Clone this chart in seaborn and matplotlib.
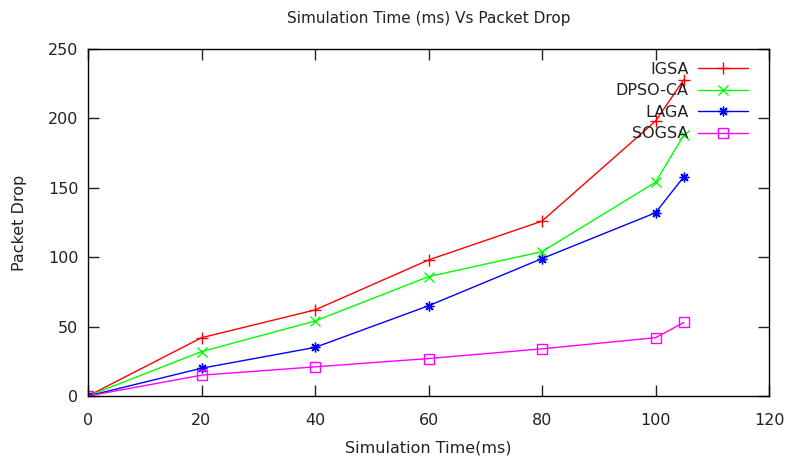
import pandas as pd
import seaborn as sns
import matplotlib
matplotlib.use("Agg")
import matplotlib.pyplot as plt

# 模擬時間 (ms)
sim_time = [0, 20, 40, 60, 80, 100, 105]

# 各演算法的封包遺失量
igsa = [0, 42, 62, 98, 126, 198, 228]
dpso_ca = [0, 32, 54, 86, 104, 154, 188]
laga = [0, 20, 35, 65, 99, 132, 158]
sogsa = [0, 15, 21, 27, 34, 42, 53]

series_names = ["IGSA", "DPSO-CA", "LAGA", "SOGSA"]
series_values = [igsa, dpso_ca, laga, sogsa]

colors = ["#ff0000", "#00ff00", "#0000ff", "#ff00ff"]
markers = ["+", "x", (8, 2, 0), "s"]
msizes = [8, 7, 7, 6.5]

rows = []
for name, vals in zip(series_names, series_values):
    for t, v in zip(sim_time, vals):
        rows.append({"time": t, "drop": v, "algo": name})
df = pd.DataFrame(rows)

sns.set_style("ticks")
plt.rcParams["font.family"] = ["DejaVu Sans"]

fig = plt.figure(figsize=(7.87, 4.61), dpi=100)
ax = fig.add_axes([88 / 787, 1 - 396 / 461, (769 - 88) / 787, (396 - 49) / 461])

for name, c, m, ms in zip(series_names, colors, markers, msizes):
    sub = df[df["algo"] == name]
    sns.lineplot(data=sub, x="time", y="drop", ax=ax, color=c, lw=1.0,
                 marker=m, markersize=ms,
                 markerfacecolor="none" if m == "s" else c,
                 markeredgecolor=c, markeredgewidth=1.0, label=name)

ax.set_xlim(0, 120)
ax.set_ylim(0, 250)
ax.set_xticks(range(0, 121, 20))
ax.set_yticks(range(0, 251, 50))
ax.tick_params(direction="in", length=8, width=1, top=True, right=True,
               labelsize=11.5, colors="#222222")
ax.tick_params(axis="x", pad=12)
ax.tick_params(axis="y", pad=7)
for s in ax.spines.values():
    s.set_linewidth(1)
    s.set_color("black")

ax.set_title("Simulation Time (ms) Vs Packet Drop", fontsize=11, pad=19, color="#222222")
ax.set_xlabel("Simulation Time(ms)", fontsize=11.5, labelpad=9, color="#222222")
ax.set_ylabel("Packet Drop", fontsize=11.5, labelpad=15, color="#222222")

leg = ax.legend(loc="upper right", bbox_to_anchor=(0.969, 0.9625),
                markerfirst=False, frameon=False, borderpad=0,
                fontsize=11.5, handlelength=3.1, labelspacing=0.4,
                borderaxespad=0, handletextpad=0.6)
for t in leg.get_texts():
    t.set_ha("right")
    t.set_color("#222222")
leg._legend_box.align = "right"

fig.savefig("out.png", dpi=100)
